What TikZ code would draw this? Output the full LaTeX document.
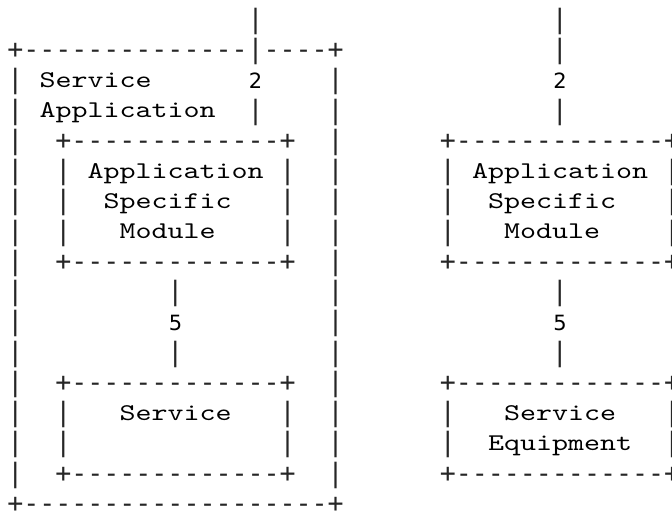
\documentclass[tikz,border=0pt]{standalone}
\usepackage{fontspec}
\newfontfamily\symfont{DejaVu Sans Mono}
\newfontfamily\digfont{DejaVu Sans}
\newfontfamily\wordfont[FakeStretch=1.271]{lmmono10-regular.otf}
% helpers: column, row
\newcommand\abar[2]{\node[sym] (v-#1-#2) at (#1,{#2-1}) {|};}
\newcommand\aplus[2]{\node[sym] (p-#1-#2) at (#1,{#2-1}) {+};}
\newcommand\adig[3]{\node[dig] (n-#1-#2) at (#1,{#2-1}) {#3};}
\newcommand\aword[3]{\node[word] (w-#1-#2) at ({#1-0.5},{#2-1}) {#3};}
\newcommand\arun[3]{\foreach \c in {#1,...,#2}{\node[sym] (d-\c-#3) at (\c,{#3-1}) {-};}}
\newcommand\aedge[3]{%
  \aplus{#1}{#3}\aplus{#2}{#3}%
  \pgfmathtruncatemacro\ea{#1+1}\pgfmathtruncatemacro\eb{#2-1}%
  \arun{\ea}{\eb}{#3}}
\begin{document}
\begin{tikzpicture}[x=16.02pt, y=-30.25pt,
  sym/.style={font=\symfont\fontsize{26.6}{30}\selectfont, inner sep=0pt, anchor=base, yshift=-6.9pt, text=black!85},
  word/.style={font=\wordfont\fontsize{24}{28}\selectfont, inner sep=0pt, anchor=base west, yshift=-5.6pt},
  dig/.style={font=\digfont\fontsize{21}{25}\selectfont, inner sep=0pt, anchor=base, yshift=-6.5pt}]
\clip (-15.3pt,-490.6pt) rectangle (656.7pt,21.4pt);
% row 1
\abar{15}{1}\abar{34}{1}
% row 2
\aplus{0}{2}\arun{1}{14}{2}\abar{15}{2}\arun{16}{19}{2}\aplus{20}{2}
\abar{34}{2}
% row 3
\abar{0}{3}\aword{2}{3}{Service}\adig{15}{3}{2}\abar{20}{3}\adig{34}{3}{2}
% row 4
\abar{0}{4}\aword{2}{4}{Application}\abar{15}{4}\abar{20}{4}\abar{34}{4}
% rows 5,9,13,16: box edges
\foreach \r in {5,9,13,16}{\abar{0}{\r}\abar{20}{\r}\aedge{3}{17}{\r}\aedge{27}{41}{\r}}
% box sides rows 6-8, 14-15
\foreach \r in {6,7,8,14,15}{\abar{0}{\r}\abar{3}{\r}\abar{17}{\r}\abar{20}{\r}\abar{27}{\r}\abar{41}{\r}}
\aword{5}{6}{Application}\aword{29}{6}{Application}
\aword{6}{7}{Specific}\aword{30}{7}{Specific}
\aword{7}{8}{Module}\aword{31}{8}{Module}
% rows 10-12
\foreach \r in {10,11,12}{\abar{0}{\r}\abar{20}{\r}}
\abar{10}{10}\abar{34}{10}
\adig{10}{11}{5}\adig{34}{11}{5}
\abar{10}{12}\abar{34}{12}
% rows 14-15 labels
\aword{7}{14}{Service}\aword{31}{14}{Service}
\aword{30}{15}{Equipment}
% row 17
\aedge{0}{20}{17}
\end{tikzpicture}
\end{document}
